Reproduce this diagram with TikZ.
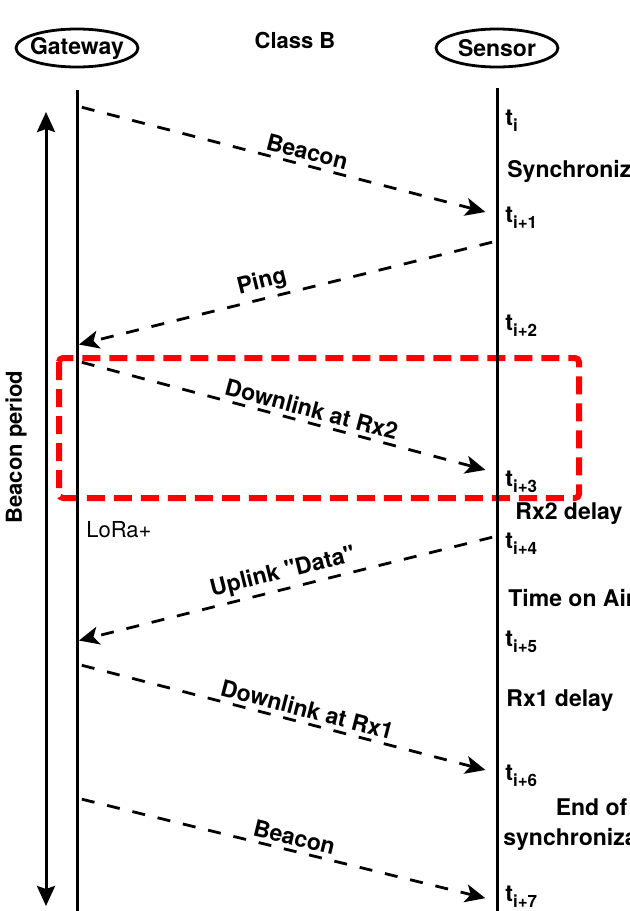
\documentclass[tikz,border=0pt]{standalone}
\usepackage{fontspec}
\setmainfont{TeX Gyre Heros}
\usetikzlibrary{shapes.geometric}
\usetikzlibrary{arrows.meta}
\newcommand{\tstamp}[1]{t\raisebox{-.55ex}{\fontsize{8.5}{9}\selectfont#1}}

\begin{document}
\begin{tikzpicture}[x=.5pt,y=-.5pt,
  font=\fontsize{11.5}{15}\selectfont\bfseries,
  party/.style={inner sep=0pt,font=\fontsize{11.5}{14}\selectfont\bfseries},
  ring/.style={line width=1.4pt},
  life/.style={line width=1.5pt},
  msg/.style={line width=1.4pt,dash pattern=on 6.5pt off 6.5pt,shorten <=2.5pt,-{Stealth[length=10pt,width=9pt,inset=2.5pt]}},
  lbl/.style={sloped,above,inner sep=2pt},
  tick/.style={anchor=base west,inner sep=0pt},
  rxbox/.style={draw=red,line width=3pt,dash pattern=on 9pt off 4.5pt,rounded corners=2pt}]
  \useasboundingbox (0,0) rectangle (629,911);
  \clip (0,0) rectangle (629,911);

  \node (gw) [party] at (77,48) {Gateway};
  \node (sn) [party] at (497,48) {Sensor};
  \draw[ring] (gw) ellipse [x radius=30.5pt,y radius=9.5pt];
  \draw[ring] (sn) ellipse [x radius=30.5pt,y radius=9.5pt];
  \node (cls) [font=\fontsize{11}{13}\selectfont\bfseries] at (295,40) {Class B};

  \draw[rxbox] (59,358) rectangle (579,498);

  \draw[life] (gw.south) ++(0,31) coordinate (gtop) -- ++(0,830) coordinate (gbot);
  \draw[life] (sn.south) ++(0,31) coordinate (stop) -- ++(0,830) coordinate (sbot);

  \coordinate (bpt) at (46,112);
  \coordinate (bpb) at (46,906);
  \draw[line width=1.5pt,{Stealth[length=10pt,width=9pt,inset=1.5pt]}-{Stealth[length=10pt,width=9pt,inset=1.5pt]}] (bpt) -- (bpb);
  \node (bp) [rotate=90,font=\fontsize{11}{13}\selectfont\bfseries] at (16,447) {Beacon period};

  \coordinate (g1) at (77,106);  \coordinate (s1) at (497,215);
  \coordinate (s2) at (497,241); \coordinate (g2) at (77,345);
  \coordinate (g3) at (77,361);  \coordinate (s3) at (497,473);
  \coordinate (s4) at (497,536); \coordinate (g4) at (77,641);
  \coordinate (g5) at (77,664);  \coordinate (s5) at (497,773);
  \coordinate (g6) at (77,798);  \coordinate (s6) at (497,901);

  \draw[msg,shorten >=6pt] (g1) -- (s1) node[lbl,pos=.54] {Beacon};
  \draw[msg,shorten >=1pt] (s2) -- (g2) node[lbl,pos=.55] {Ping};
  \draw[msg,shorten >=6pt] (g3) -- (s3) node[lbl,pos=.55] {Downlink at Rx2};
  \draw[msg,shorten >=1pt] (s4) -- (g4) node[lbl,pos=.50] {Uplink \textquotedbl Data\textquotedbl};
  \draw[msg,shorten >=6pt] (g5) -- (s5) node[lbl,pos=.54] {Downlink at Rx1};
  \draw[msg,shorten >=6pt] (g6) -- (s6) node[lbl,pos=.51] {Beacon};

  \node (t0) [tick] at (505,125) {\tstamp{i}};
  \node (t1) [tick] at (505,222) {\tstamp{i+1}};
  \node (t2) [tick] at (505,330) {\tstamp{i+2}};
  \node (t3) [tick] at (505,486) {\tstamp{i+3}};
  \node (t4) [tick] at (505,548) {\tstamp{i+4}};
  \node (t5) [tick] at (505,646) {\tstamp{i+5}};
  \node (t6) [tick] at (505,780) {\tstamp{i+6}};
  \node (t7) [tick] at (505,901) {\tstamp{i+7}};

  \node (sync) [tick] at (507,177) {Synchronize};
  \node (rx2) [tick] at (515,519) {Rx2 delay};
  \node (toa) [tick] at (508,606) {Time on Air};
  \node (rx1) [tick] at (506,706) {Rx1 delay};
  \node (eos) [anchor=west,align=center,inner sep=0pt] at (503,825) {End of\\synchronization};
  \node (lora) [tick,font=\fontsize{11}{13}\selectfont] at (86,537) {LoRa+};
\end{tikzpicture}
\end{document}
